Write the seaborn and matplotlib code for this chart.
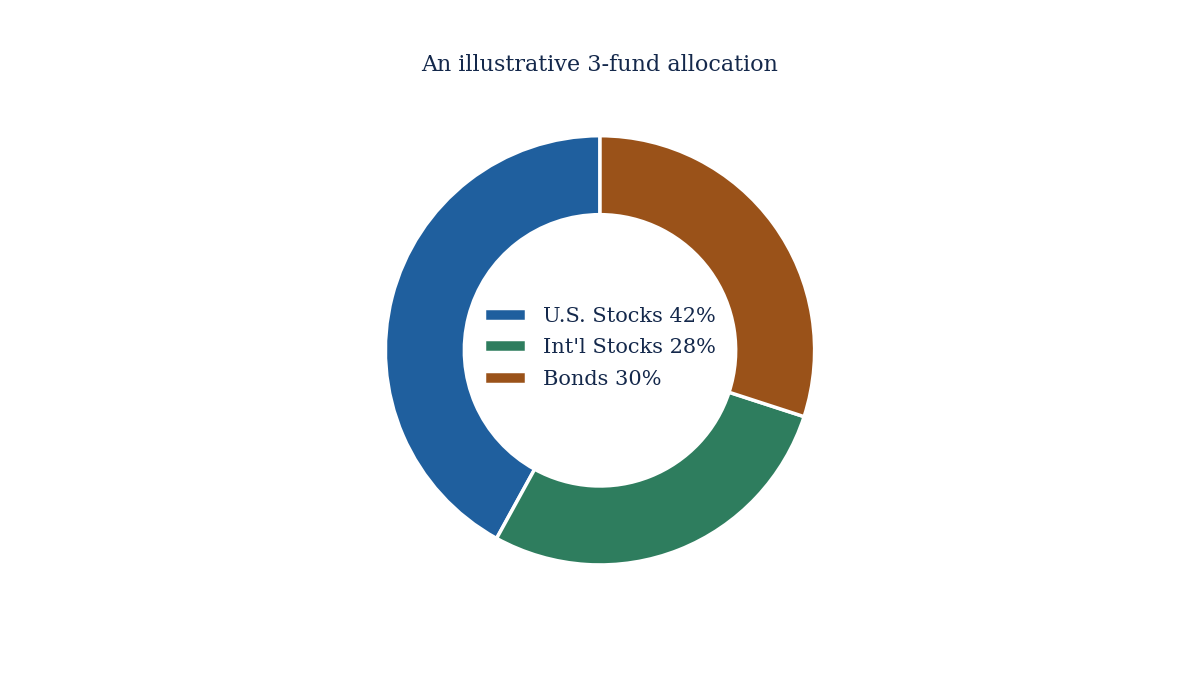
import matplotlib
matplotlib.use("Agg")
import matplotlib.pyplot as plt
import seaborn as sns

sns.set_theme(style="white")
plt.rcParams['font.family'] = ['DejaVu Serif']

labels = ["U.S. Stocks", "Int'l Stocks", "Bonds"]
values = [42, 28, 30]
colors = ["#1f5f9e", "#2e7d5e", "#9a5219"]
text_color = "#14284b"

fig = plt.figure(figsize=(12, 6.75), dpi=100)
ax = fig.add_axes([0, 0, 1, 1])
wedges, _ = ax.pie(values, colors=colors, startangle=90, counterclock=True,
                   radius=0.318, center=(0, -0.019),
                   wedgeprops=dict(width=0.117, edgecolor="white", linewidth=2.5))
ax.set_xlim(-0.889, 0.889)
ax.set_ylim(-0.5, 0.5)
ax.set_aspect('equal')
ax.axis('off')
ax.set_position([0, 0, 1, 1])
fig.text(0.5, 0.904, "An illustrative 3-fund allocation", ha="center", va="center",
         fontsize=16, color=text_color)
leg = ax.legend(wedges, [f"{l} {v}%" for l, v in zip(labels, values)],
                loc="center", bbox_to_anchor=(0.5, 0.485), frameon=False,
                fontsize=15, labelcolor=text_color, handlelength=2.0,
                handleheight=0.6, labelspacing=0.6)
fig.savefig("out.png", dpi=100, facecolor="white")
